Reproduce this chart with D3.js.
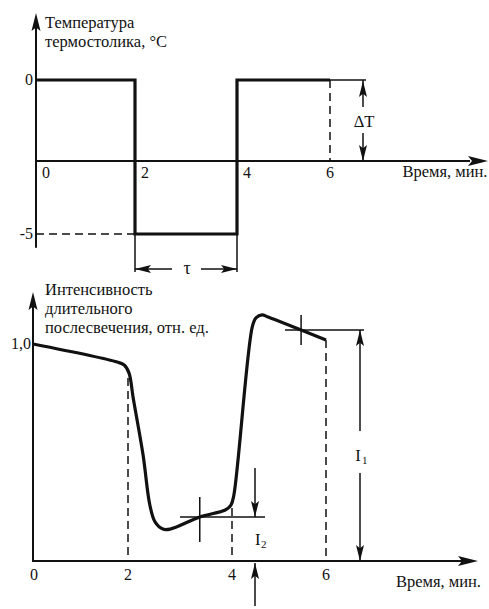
<!DOCTYPE html>
<html><head><meta charset="utf-8">
<script src="https://cdn.jsdelivr.net/npm/d3@7"></script>
<style>body{margin:0;background:#fff}svg{display:block}</style>
</head><body>
<script>
// ---- data ----
const xTicks = [0, 2, 4, 6];
const tempTicks = [0, -5];
const tempTimes = [0, 2, 2, 4, 4, 6];
const tempValues = [0, 0, -5, -5, 0, 0];
const lumTimes = [0, 1.77, 1.92, 2.02, 2.10, 2.29, 2.42, 2.52, 2.67, 2.81, 3.38, 3.87, 3.98, 4.04, 4.43, 4.51, 4.64, 4.77, 6.0];
const lumValues = [1.0, 0.917, 0.903, 0.866, 0.751, 0.488, 0.258, 0.18, 0.147, 0.147, 0.203, 0.235, 0.258, 0.304, 1.078, 1.12, 1.134, 1.124, 1.018];
const lumTicks = [1.0];
const I1 = 1.065, I2 = 0.203, cross1X = 3.38, cross2X = 5.47;
const topTitle = ["Температура", "термостолика, °C"];
const botTitle = ["Интенсивность", "длительного", "послесвечения, отн. ед."];
const xLabel = "Время, мин.";

const W = 489, H = 609;
const svg = d3.select("body").append("svg").attr("width", W).attr("height", H);
const FS = 16.5;
const FONT = "'Liberation Serif', 'Times New Roman', 'DejaVu Serif', serif";

// scales
const xT = d3.scaleLinear().domain([0, 2, 4, 6]).range([36, 135, 237, 330]);
const yT = d3.scaleLinear().domain([0, -5]).range([80, 234]);
const xB = d3.scaleLinear().domain([0, 2, 4, 6]).range([33, 128, 232, 326]);
const yB = d3.scaleLinear().domain([0, 1]).range([561, 344]);

function line(g, x1, y1, x2, y2, w, dash) {
  const l = g.append("line").attr("x1", x1).attr("y1", y1).attr("x2", x2).attr("y2", y2)
    .attr("stroke", "#111").attr("stroke-width", w);
  if (dash) l.attr("stroke-dasharray", dash);
  return l;
}
function head(g, x, y, dir, len, hw) {
  let pts;
  if (dir === "up") pts = [[x, y], [x - hw, y + len], [x, y + len * 0.8], [x + hw, y + len]];
  if (dir === "down") pts = [[x, y], [x - hw, y - len], [x, y - len * 0.8], [x + hw, y - len]];
  if (dir === "left") pts = [[x, y], [x + len, y - hw], [x + len * 0.8, y], [x + len, y + hw]];
  if (dir === "right") pts = [[x, y], [x - len, y - hw], [x - len * 0.8, y], [x - len, y + hw]];
  g.append("path").attr("d", d3.line()(pts) + "Z").attr("fill", "#111");
}
function txt(g, s, x, y, anchor, fs) {
  return g.append("text").attr("x", x).attr("y", y).attr("font-size", fs || FS)
    .attr("font-family", FONT).attr("fill", "#111")
    .attr("text-anchor", anchor || "start").text(s);
}

// ===== TOP CHART =====
const gt = svg.append("g");
const axT = 161;
line(gt, xT(0), yT(-5.45), xT(0), 20, 2);
head(gt, xT(0), 13, "up", 18, 4.5);
line(gt, xT(0), axT, 470, axT, 2);
head(gt, 488, axT, "right", 20, 5);
xTicks.forEach(t => {
  if (t === 6) txt(gt, t, xT(t), 178, "middle", 16);
  else txt(gt, t, xT(t) + 6, 178, "start", 16);
});
tempTicks.forEach(t => txt(gt, t, xT(0) - 3, yT(t) + 5, "end", 16));
txt(gt, xLabel, 487.5, 177, "end");
topTitle.forEach((s, i) => txt(gt, s, 45, 28 + i * 19));
line(gt, xT(0), yT(-5), xT(2), yT(-5), 1.5, "8,5");
line(gt, xT(6), yT(0), xT(6), axT, 1.5, "8,5");
line(gt, xT(2), yT(-5), xT(2), 272, 1.5);
line(gt, xT(4), yT(-5), xT(4), 272, 1.5);
line(gt, xT(6), yT(0), 366, yT(0), 1.5);
gt.append("path")
  .attr("d", d3.line().x((d, i) => xT(tempTimes[i])).y((d, i) => yT(tempValues[i]))(tempTimes))
  .attr("fill", "none").attr("stroke", "#111").attr("stroke-width", 3.2).attr("stroke-linejoin", "miter");
line(gt, xT(2), 269, 172, 269, 1.5); head(gt, xT(2), 269, "left", 16, 4);
line(gt, 201, 269, xT(4), 269, 1.5); head(gt, xT(4), 269, "right", 16, 4);
txt(gt, "τ", 187, 274, "middle", 18);
const dx = 363;
line(gt, dx, yT(0), dx, 107, 1.5); head(gt, dx, yT(0) + 1, "up", 16, 4);
line(gt, dx, 133, dx, axT, 1.5); head(gt, dx, axT, "down", 16, 4);
txt(gt, "ΔT", dx + 1, 127, "middle");

// ===== BOTTOM CHART =====
const gb = svg.append("g");
line(gb, xB(0), yB(0) + 1, xB(0), 300, 2);
head(gb, xB(0), 292, "up", 18, 4.5);
line(gb, xB(0) - 1, yB(0), 465, yB(0), 2);
head(gb, 478, yB(0), "right", 20, 5);
xTicks.forEach(t => txt(gb, t, xB(t) + (t === 0 ? 1 : 0), 580, "middle", 16));
lumTicks.forEach(t => txt(gb, "1,0", xB(0) - 2, yB(t) + 5, "end", 16));
txt(gb, xLabel, 481, 587, "end");
botTitle.forEach((s, i) => txt(gb, s, 45, 295 + i * 19));
line(gb, xB(2), 378, xB(2), yB(0), 1.5, "8,5");
line(gb, xB(4), 508, xB(4), yB(0), 1.5, "8,5");
line(gb, xB(6), yB(lumValues[lumValues.length - 1]), xB(6), yB(0), 1.5, "8,5");
gb.append("path")
  .attr("d", d3.line().curve(d3.curveCatmullRom.alpha(0.5))
    .x((d, i) => xB(lumTimes[i])).y((d, i) => yB(lumValues[i]))(lumTimes))
  .attr("fill", "none").attr("stroke", "#111").attr("stroke-width", 3.2).attr("stroke-linejoin", "round");
line(gb, xB(cross1X), yB(I2) - 20, xB(cross1X), yB(I2) + 25, 1.5);
line(gb, 180, yB(I2), 265, yB(I2), 1.5);
line(gb, xB(cross2X), yB(I1) - 15, xB(cross2X), yB(I1) + 15, 1.5);
line(gb, 285, yB(I1), 364, yB(I1), 1.5);
const i1x = 360;
line(gb, i1x, yB(I1), i1x, 431, 1.5); head(gb, i1x, yB(I1), "up", 16, 4);
line(gb, i1x, 473, i1x, yB(0), 1.5); head(gb, i1x, yB(0), "down", 16, 4);
txt(gb, "I", i1x - 2, 461, "middle");
txt(gb, "1", i1x + 2, 464, "start", 11);
const i2x = 255;
line(gb, i2x, 468, i2x, yB(I2), 1.5); head(gb, i2x, yB(I2), "down", 16, 4);
line(gb, i2x, yB(0) + 2, i2x, 606, 1.5); head(gb, i2x, yB(0) + 2, "up", 16, 4);
txt(gb, "I", i2x, 545, "start");
txt(gb, "2", i2x + 6, 548, "start", 11);
</script>
</body></html>
